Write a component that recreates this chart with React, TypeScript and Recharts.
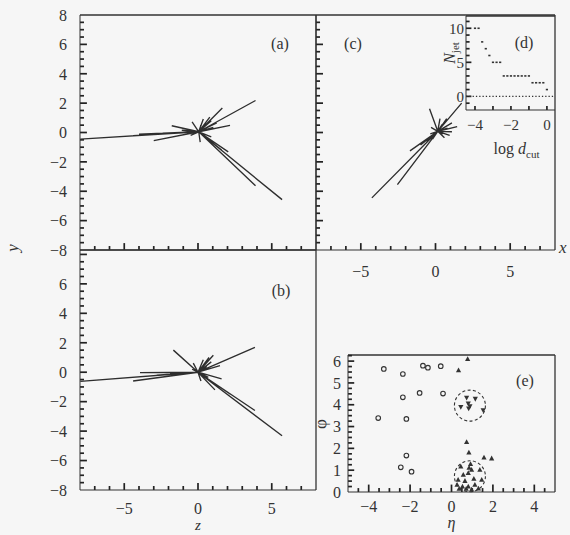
import React from 'react';
import { LineChart, Line, ScatterChart, Scatter, XAxis, YAxis, ReferenceLine, ReferenceDot, Label } from 'recharts';

const INK = '#333';
const TICK = '#222';
const FONT = '"Liberation Serif", "Times New Roman", serif';

// event display, track end points per projection (vertex near origin)
const vertexA = [0.05, 0.05];
const tracksA: number[][] = [
  [-7.98, -0.45], [-4.4, -0.22], [-4.0, -0.12], [-3.0, -0.55], [-2.4, -0.05], [-1.78, 0.46], [-1.1, 0.15], [-0.4, 0.72],
  [0.36, 0.92], [0.8, 1.05], [1.65, 1.67], [1.27, 0.65], [1.04, 0.35], [2.17, 0.48], [3.9, 2.18], [0.55, 0.6],
  [0.9, 0.8], [0.6, 0.2], [-0.5, -0.2], [0.2, 0.5],
  [0.15, -0.65], [0.9, -0.3], [2.05, -1.32], [1.6, -1.2], [3.9, -3.62], [5.7, -4.57],
];
const vertexB = [0, 0];
const tracksB: number[][] = [
  [-7.98, -0.62], [-4.4, -0.6], [-3.93, -0.03], [-2.8, -0.2], [-1.9, -0.1], [-1.67, 1.5], [-0.32, 0.62], [0.36, 0.85],
  [0.75, 1.0], [1.04, 1.15], [1.49, 0.45], [3.86, 1.68], [0.6, 0.4], [0.9, 0.7], [-0.4, 0.2],
  [1.6, -0.45], [0.7, -0.35], [1.15, -1.2], [2.2, -1.5], [3.86, -2.6], [5.7, -4.32], [0.2, -0.6],
];
const vertexC = [0.15, 0.08];
const tracksC: number[][] = [
  [-4.26, -4.45], [-2.55, -3.55], [-1.71, -1.25], [-1.0, -0.85], [-0.6, -0.6], [-0.4, 1.62], [1.75, 2.0], [1.45, 0.4],
  [1.1, 0.65], [0.3, 0.95], [0.75, 0.95], [1.1, 0.05], [0.95, -0.2], [0.45, 0.55], [-0.3, 0.35], [0.6, -0.35], [-0.2, -0.45],
  [0.8, 0.3], [0.5, -0.1], [-0.35, -0.1],
];

// (d) jet multiplicity vs log d_cut
const logDcut = [-4, -3.8, -3.6, -3.4, -3.2, -3, -2.8, -2.6, -2.4, -2.2, -2, -1.8, -1.6, -1.4, -1.2, -1, -0.8, -0.6, -0.4, -0.2, 0];
const nJet = [10, 10, 8, 7, 6, 5, 5, 5, 3, 3, 3, 3, 3, 3, 3, 3, 2, 2, 2, 2, 1];

// (e) eta-phi plane
const freeParticles: number[][] = [
  [-3.27, 5.64], [-2.35, 5.41], [-1.38, 5.79], [-1.14, 5.7], [-0.52, 5.77], [-2.35, 4.34], [-1.54, 4.54], [-0.41, 4.51],
  [-3.54, 3.39], [-2.18, 3.35], [-2.18, 1.67], [-2.45, 1.13], [-1.93, 0.93],
];
const jetParticlesUp: number[][] = [
  [0.78, 6.09], [0.34, 5.57], [0.73, 2.28], [0.84, 1.8], [1.57, 1.57], [1.94, 1.53],
  [0.45, 1.16], [0.92, 1.27], [0.97, 1.01], [0.81, 0.86], [0.57, 0.78], [1.37, 1.01], [0.32, 0.55], [0.65, 0.5],
  [1.08, 0.6], [1.46, 0.55], [0.27, 0.32], [0.53, 0.24], [0.81, 0.24], [1.13, 0.32], [0.37, 0.14], [0.71, 0.14],
  [0.97, 0.1], [1.3, 0.15], [0.85, 1.1],
];
const jetParticlesDown: number[][] = [
  [0.73, 4.33], [1.15, 4.28], [0.45, 3.91], [0.81, 4.07], [0.89, 3.94], [0.83, 3.84], [1.53, 3.76],
];
const jetAxes: number[][] = [[0.89, 3.96], [0.89, 0.72]];

// tick values
const range = (a: number, b: number, s: number) => {
  const r: number[] = [];
  for (let v = a; v <= b + 1e-9; v += s) r.push(Math.round(v * 100) / 100);
  return r;
};
const evMajorY = [-8, -6, -4, -2, 0, 2, 4, 6, 8];
const evMajorX = [-5, 0, 5];
const dMajorY = [0, 5, 10];
const dMajorX = [-4, -2, 0];
const eLabelsY = [0, 1, 2, 3, 4, 5, 6];
const eLabelsX = [-4, -2, 0, 2, 4];

const trackData = (v: number[], ends: number[][]) =>
  ends.flatMap(([x, y]) => [{ x: v[0], y: v[1] }, { x, y }, { x, y: null }]);
const pts = (arr: number[][]) => arr.map(([x, y]) => ({ x, y }));

const near = (arr: number[], v: number) => arr.some(m => Math.abs(m - v) < 1e-6);
const fmt = (v: number) => (v < 0 ? `\u2212${Math.abs(v)}` : `${v}`);

// tick labels only; the marks are drawn as short reference segments
function axisLabels(side: 'left' | 'bottom', labels: number[], gap: number, size = 16) {
  const tick = (props: any) => {
    const { x, y, payload } = props;
    const v = Number(payload.value);
    if (!near(labels, v)) return <g />;
    return side === 'left'
      ? <text x={x - gap} y={y} dy="0.36em" textAnchor="end" fontSize={size} fontFamily={FONT} fill={INK}>{fmt(v)}</text>
      : <text x={x} y={y + gap} dy="0.36em" textAnchor="middle" fontSize={size} fontFamily={FONT} fill={INK}>{fmt(v)}</text>;
  };
  return { tick, tickSize: 0, tickMargin: 0, stroke: INK, interval: 0 as const, type: 'number' as const };
}

// inward tick marks; lengths are given in data units of the perpendicular axis
function tickMarks(side: 'left' | 'bottom', values: number[], major: number[], at: number, majorLen: number, minorLen: number) {
  return values.map(v => {
    const len = near(major, v) ? majorLen : minorLen;
    const segment = side === 'left'
      ? [{ x: at, y: v }, { x: at + len, y: v }]
      : [{ x: v, y: at }, { x: v, y: at + len }];
    return <ReferenceLine key={`${side}-${v}`} segment={segment} stroke={TICK} strokeWidth={1.7} ifOverflow="visible" />;
  });
}

const edge = { stroke: INK, strokeWidth: 1.3, ifOverflow: 'visible' as const };
const tag = (t: string, dx: number, dy: number) => ({
  content: (p: any) => (
    <text x={p.viewBox.x + dx} y={p.viewBox.y + dy} dy="0.35em" textAnchor="middle" fontSize={16} fontFamily={FONT} fill={INK}>{t}</text>
  ),
});

const openCircle = (p: any) => <circle cx={p.cx} cy={p.cy} r={2.3} fill="none" stroke={INK} strokeWidth={1.1} />;
const triUp = (p: any) => <path d={`M${p.cx},${p.cy - 3}L${p.cx - 2.6},${p.cy + 1.8}L${p.cx + 2.6},${p.cy + 1.8}Z`} fill={INK} />;
const triDown = (p: any) => <path d={`M${p.cx},${p.cy + 3}L${p.cx - 2.6},${p.cy - 1.8}L${p.cx + 2.6},${p.cy - 1.8}Z`} fill={INK} />;
const dash = (p: any) => <rect x={p.cx - 1.1} y={p.cy - 0.8} width={2.2} height={1.6} fill={INK} />;

const track = { stroke: '#2e2e2e', strokeWidth: 1.35, dot: false, isAnimationActive: false, connectNulls: false };

export default function App() {
  return (
    <div style={{ position: 'absolute', left: 0, top: 0, width: 570, height: 535, background: '#f6f6f6', fontFamily: FONT }}>
      {/* (a) y vs z */}
      <div style={{ position: 'absolute', left: 0, top: 0 }}>
        <LineChart width={330} height={265} data={trackData(vertexA, tracksA)} margin={{ top: 15, right: 14, bottom: 10, left: 0 }}>
          <XAxis dataKey="x" domain={[-8, 8]} ticks={evMajorX} height={5} {...axisLabels('bottom', [], 0)} />
          <YAxis domain={[-8, 8]} ticks={evMajorY} width={80} {...axisLabels('left', evMajorY, 13)}>
            <Label content={(p: any) => (
              <text x={p.viewBox.x + 18} y={p.viewBox.y + p.viewBox.height - 2} transform={`rotate(-90 ${p.viewBox.x + 18} ${p.viewBox.y + p.viewBox.height - 2})`}
                textAnchor="middle" fontSize={17} fontStyle="italic" fontFamily={FONT} fill={INK}>y</text>
            )} />
          </YAxis>
          <ReferenceLine y={8} {...edge} label={tag('(a)', 200, 28)} />
          <ReferenceLine x={8} {...edge} />
          {tickMarks('left', range(-7.5, 7.5, 0.5), evMajorY, -8, 0.47, 0.27)}
          {tickMarks('bottom', range(-7, 7, 1), evMajorX, -8, 0.47, 0.27)}
          <Line dataKey="y" {...track} />
        </LineChart>
      </div>

      {/* (b) */}
      <div style={{ position: 'absolute', left: 0, top: 245 }}>
        <LineChart width={330} height={290} data={trackData(vertexB, tracksB)} margin={{ top: 5, right: 14, bottom: 0, left: 0 }}>
          <XAxis dataKey="x" domain={[-8, 8]} ticks={evMajorX} height={45} {...axisLabels('bottom', evMajorX, 18)}>
            <Label content={(p: any) => (
              <text x={p.viewBox.x + p.viewBox.width / 2} y={p.viewBox.y + 40} textAnchor="middle" fontSize={15} fontStyle="italic" fontFamily={FONT} fill={INK}>z</text>
            )} />
          </XAxis>
          <YAxis domain={[-8, 8.3]} ticks={[-8, -6, -4, -2, 0, 2, 4, 6]} width={80} {...axisLabels('left', [-8, -6, -4, -2, 0, 2, 4, 6], 13)} />
          <ReferenceLine y={8.3} {...edge} label={tag('(b)', 201, 40)} />
          <ReferenceLine x={8} {...edge} />
          {tickMarks('left', range(-7.5, 8, 0.5), evMajorY, -8, 0.47, 0.27)}
          {tickMarks('bottom', range(-7, 7, 1), evMajorX, -8, 0.47, 0.27)}
          <Line dataKey="y" {...track} />
        </LineChart>
      </div>

      {/* (c) y vs x */}
      <div style={{ position: 'absolute', left: 300, top: 0 }}>
        <LineChart width={270} height={280} data={trackData(vertexC, tracksC)} margin={{ top: 15, right: 15, bottom: 0, left: 0 }}>
          <XAxis dataKey="x" domain={[-8, 8]} ticks={evMajorX} height={30} {...axisLabels('bottom', evMajorX, 21.5)}>
            <Label content={(p: any) => (
              <text x={p.viewBox.x + p.viewBox.width + 4} y={p.viewBox.y + 3} textAnchor="start" fontSize={17} fontStyle="italic" fontFamily={FONT} fill={INK}>x</text>
            )} />
          </XAxis>
          <YAxis domain={[-8, 8]} ticks={evMajorY} width={16} {...axisLabels('left', [], 0)} />
          <ReferenceLine y={8} {...edge} label={tag('(c)', 37, 28)} />
          <ReferenceLine x={8} {...edge} />
          {tickMarks('left', range(-7.5, 7.5, 0.5), evMajorY, -8, 0.47, 0.27)}
          {tickMarks('bottom', range(-7, 7, 1), evMajorX, -8, 0.47, 0.27)}
          <Line dataKey="y" {...track} />
        </LineChart>
      </div>

      {/* (d) inset */}
      <div style={{ position: 'absolute', left: 440, top: 0 }}>
        <ScatterChart width={130} height={165} margin={{ top: 16, right: 15, bottom: 0, left: 0 }}>
          <XAxis dataKey="x" domain={[-4.5, 0.45]} ticks={dMajorX} height={55} {...axisLabels('bottom', dMajorX, 15, 15)}>
            <Label content={(p: any) => (
              <text x={p.viewBox.x + p.viewBox.width / 2 + 6} y={p.viewBox.y + 44} textAnchor="middle" fontSize={16} fontFamily={FONT} fill={INK}>
                log <tspan fontStyle="italic">d</tspan><tspan fontSize={11} dy={4}>cut</tspan>
              </text>
            )} />
          </XAxis>
          <YAxis dataKey="y" domain={[-2, 11.8]} ticks={dMajorY} width={26} {...axisLabels('left', dMajorY, 2, 15)}>
            <Label content={(p: any) => {
              const x = p.viewBox.x + 15, y = p.viewBox.y + 37;
              return (
                <text x={x} y={y} transform={`rotate(-90 ${x} ${y})`} textAnchor="middle" fontSize={16} fontFamily={FONT} fill={INK}>
                  <tspan fontStyle="italic">N</tspan><tspan fontSize={11} dy={4}>jet</tspan>
                </text>
              );
            }} />
          </YAxis>
          <ReferenceLine y={11.8} {...edge} label={tag('(d)', 58, 26)} />
          {tickMarks('left', range(-1, 11, 1), dMajorY, -4.5, 0.3, 0.2)}
          {tickMarks('bottom', range(-4, 0, 1), [], -2, 0.6, 0.6)}
          <ReferenceLine y={0} stroke={INK} strokeWidth={1.1} strokeDasharray="1.3 2" ifOverflow="visible" />
          <Scatter data={logDcut.map((x, i) => ({ x, y: nJet[i] }))} shape={dash} isAnimationActive={false} />
        </ScatterChart>
      </div>

      {/* (e) eta-phi */}
      <div style={{ position: 'absolute', left: 300, top: 345 }}>
        <ScatterChart width={270} height={190} margin={{ top: 10, right: 15, bottom: 0, left: 0 }}>
          <XAxis dataKey="x" domain={[-5, 5]} ticks={eLabelsX} height={43} {...axisLabels('bottom', eLabelsX, 14, 16)}>
            <Label content={(p: any) => (
              <text x={p.viewBox.x + p.viewBox.width / 2} y={p.viewBox.y + 36} textAnchor="middle" fontSize={16} fontStyle="italic" fontFamily={FONT} fill={INK}>η</text>
            )} />
          </XAxis>
          <YAxis dataKey="y" domain={[0, 6.28]} ticks={eLabelsY} width={48} {...axisLabels('left', eLabelsY, 7, 16)}>
            <Label content={(p: any) => {
              const x = p.viewBox.x + 26, y = p.viewBox.y + 69;
              return <text x={x} y={y} transform={`rotate(-90 ${x} ${y})`} textAnchor="middle" fontSize={17} fontFamily={FONT} fill={INK}>φ</text>;
            }} />
          </YAxis>
          <ReferenceLine y={6.28} {...edge} label={tag('(e)', 177, 25)} />
          <ReferenceLine x={5} {...edge} />
          {tickMarks('left', range(0.25, 6.25, 0.25), eLabelsY, -5, 0.3, 0.19)}
          {tickMarks('bottom', range(-4.5, 4.5, 0.5), eLabelsX, 0, 0.34, 0.18)}
          {jetAxes.map(([x, y]) => (
            <ReferenceDot key={`${x}-${y}`} x={x} y={y} r={15.5} fill="none" stroke={INK} strokeWidth={1.1} strokeDasharray="3 2.4" ifOverflow="visible" />
          ))}
          <Scatter data={pts(freeParticles)} shape={openCircle} isAnimationActive={false} />
          <Scatter data={pts(jetParticlesUp)} shape={triUp} isAnimationActive={false} />
          <Scatter data={pts(jetParticlesDown)} shape={triDown} isAnimationActive={false} />
        </ScatterChart>
      </div>
    </div>
  );
}
